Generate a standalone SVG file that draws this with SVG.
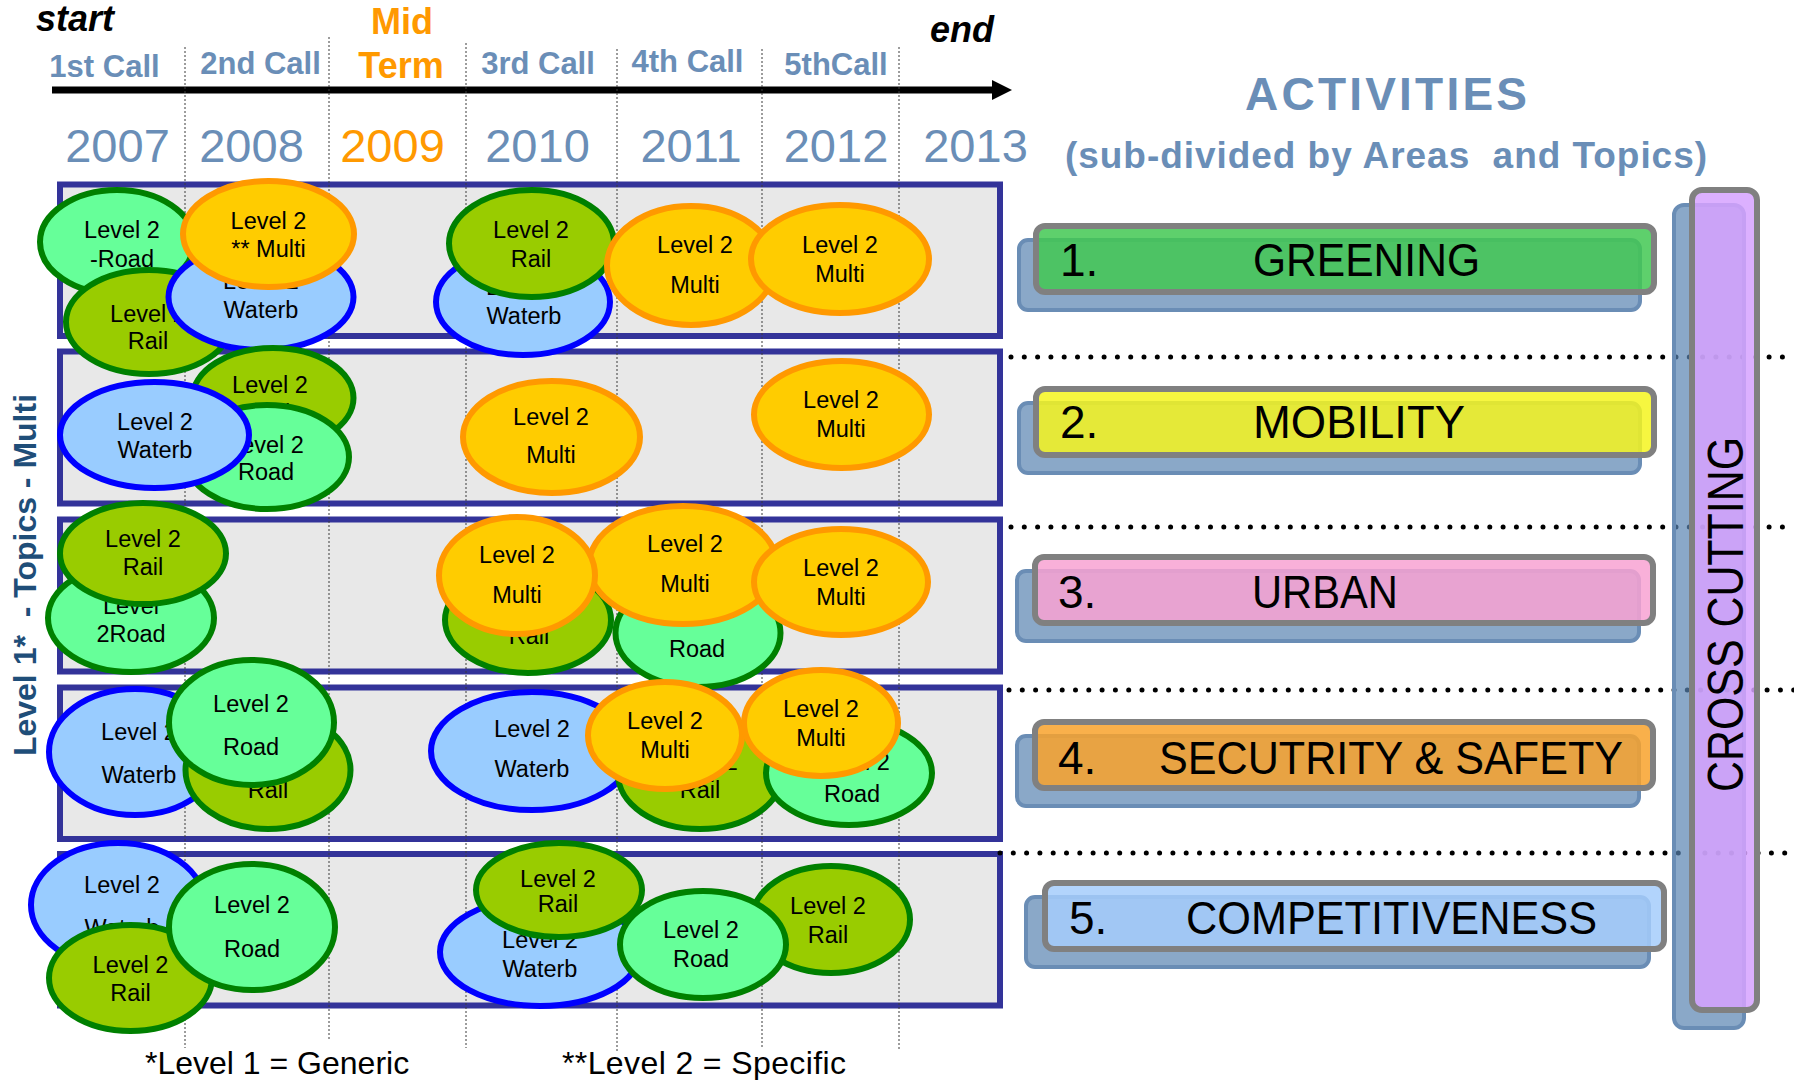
<svg xmlns="http://www.w3.org/2000/svg" width="1794" height="1080" viewBox="0 0 1794 1080">
<style>
text{font-family:"Liberation Sans",Arial,sans-serif}
.box{fill:#e8e8e8;stroke:#333399;stroke-width:6}
.grid{stroke:#3a3a3a;stroke-width:1;stroke-dasharray:2 2;fill:none}
.dots{stroke:#000;stroke-width:5;stroke-linecap:round;stroke-dasharray:0 13.3;fill:none}
.road ellipse{fill:#66ff99;stroke:#008000;stroke-width:6}
.rail ellipse{fill:#99cc00;stroke:#008000;stroke-width:6}
.water ellipse{fill:#99ccff;stroke:#0000ff;stroke-width:6}
.multi ellipse{fill:#ffcc00;stroke:#ff9900;stroke-width:6}
.lbl{font-size:23.5px;text-anchor:middle;fill:#000}
.call{font-size:31px;font-weight:bold;fill:#6a8eb7;text-anchor:middle}
.year{font-size:47px;fill:#6a8eb7;text-anchor:middle}
.or{fill:#ff9900}
.back{fill:#5983b0;fill-opacity:0.7;stroke:#6a8db5;stroke-width:4}
.front{stroke:#808080;stroke-width:6;fill-opacity:0.85}
.bt{font-size:46px;fill:#000}
</style>
<defs>
<marker id="ah" markerUnits="userSpaceOnUse" markerWidth="20" markerHeight="20" refX="2" refY="10" orient="auto"><path d="M0,0 L20,10 L0,20 z" fill="#000"/></marker>
</defs>

<g id="header">
<text x="36" y="31" font-size="36" font-weight="bold" font-style="italic" fill="#000">start</text>
<text x="930" y="42" font-size="36" font-weight="bold" font-style="italic" fill="#000">end</text>
<text x="402" y="34" font-size="36" font-weight="bold" class="or" text-anchor="middle">Mid</text>
<text x="401" y="78" font-size="36" font-weight="bold" class="or" text-anchor="middle">Term</text>
<text class="call" x="104.5" y="77">1st Call</text>
<text class="call" x="260.5" y="74">2nd Call</text>
<text class="call" x="538" y="74">3rd Call</text>
<text class="call" x="687.5" y="72">4th Call</text>
<text class="call" x="836" y="75">5thCall</text>
<text class="year" x="117.5" y="162">2007</text>
<text class="year" x="251.5" y="162">2008</text>
<text class="year or" x="392.5" y="162">2009</text>
<text class="year" x="537.5" y="162">2010</text>
<text class="year" x="691" y="162">2011</text>
<text class="year" x="836" y="162">2012</text>
<text class="year" x="975.5" y="162">2013</text>
</g>

<g id="connectors">
<line x1="52" y1="90" x2="994" y2="90" stroke="#000" stroke-width="7" marker-end="url(#ah)"/>
</g>

<g id="rows">
<rect class="box" x="60" y="184.5" width="940" height="151.5"/>
<rect class="box" x="60" y="351.5" width="940" height="152"/>
<rect class="box" x="60" y="519.5" width="940" height="152"/>
<rect class="box" x="60" y="687.5" width="940" height="151.5"/>
<rect class="box" x="60" y="854" width="940" height="151.5"/>
</g>

<g id="grid">
<line class="grid" x1="185" y1="47" x2="185" y2="1048"/>
<line class="grid" x1="329" y1="37" x2="329" y2="1040"/>
<line class="grid" x1="466" y1="43" x2="466" y2="1048"/>
<line class="grid" x1="617" y1="49" x2="617" y2="1052"/>
<line class="grid" x1="762" y1="49" x2="762" y2="1047"/>
<line class="grid" x1="899" y1="47" x2="899" y2="1050"/>
</g>

<text id="axis-label" transform="translate(36,575) rotate(-90)" text-anchor="middle" font-size="32" font-weight="bold" fill="#1f4e79" xml:space="preserve">Level 1*  - Topics - Multi</text>

<!-- Row 1 -->
<g id="r1-road" class="road"><ellipse cx="117" cy="242" rx="77" ry="52"/><text class="lbl"><tspan x="122" y="238">Level 2</tspan><tspan x="122" y="267">-Road</tspan></text></g>
<g id="r1-rail" class="rail"><ellipse cx="149" cy="322" rx="83" ry="52"/><text class="lbl"><tspan x="148" y="322">Level 2</tspan><tspan x="148" y="349">Rail</tspan></text></g>
<g id="r1-water" class="water"><ellipse cx="261" cy="297" rx="92.5" ry="53"/><text class="lbl"><tspan x="261" y="289">Level 2</tspan><tspan x="261" y="318">Waterb</tspan></text></g>
<g id="r1-multi" class="multi"><ellipse cx="268.5" cy="234" rx="85.5" ry="53"/><text class="lbl"><tspan x="268.5" y="229">Level 2</tspan><tspan x="268.5" y="257">** Multi</tspan></text></g>
<g id="r1-water2" class="water"><ellipse cx="523" cy="302" rx="87" ry="53"/><text class="lbl"><tspan x="524" y="295">Level 2</tspan><tspan x="524" y="324">Waterb</tspan></text></g>
<g id="r1-rail2" class="rail"><ellipse cx="531.5" cy="243.5" rx="82.5" ry="53.5"/><text class="lbl"><tspan x="531" y="238">Level 2</tspan><tspan x="531" y="267">Rail</tspan></text></g>
<g id="r1-multi2" class="multi"><ellipse cx="691" cy="265.5" rx="84" ry="59.5"/><text class="lbl"><tspan x="695" y="253">Level 2</tspan><tspan x="695" y="293">Multi</tspan></text></g>
<g id="r1-multi3" class="multi"><ellipse cx="840" cy="259" rx="89" ry="54"/><text class="lbl"><tspan x="840" y="253">Level 2</tspan><tspan x="840" y="282">Multi</tspan></text></g>

<!-- Row 2 -->
<g id="r2-rail" class="rail"><ellipse cx="273" cy="398" rx="80.5" ry="50"/><text class="lbl"><tspan x="270" y="393">Level 2</tspan><tspan x="270" y="421">Rail</tspan></text></g>
<g id="r2-road" class="road"><ellipse cx="267" cy="457" rx="82" ry="52"/><text class="lbl"><tspan x="266" y="453">Level 2</tspan><tspan x="266" y="480">Road</tspan></text></g>
<g id="r2-water" class="water"><ellipse cx="154.5" cy="435" rx="94.5" ry="53"/><text class="lbl"><tspan x="155" y="430">Level 2</tspan><tspan x="155" y="458">Waterb</tspan></text></g>
<g id="r2-multi" class="multi"><ellipse cx="551.5" cy="437" rx="88.5" ry="56"/><text class="lbl"><tspan x="551" y="425">Level 2</tspan><tspan x="551" y="463">Multi</tspan></text></g>
<g id="r2-multi2" class="multi"><ellipse cx="841.5" cy="414.5" rx="87.5" ry="53.5"/><text class="lbl"><tspan x="841" y="408">Level 2</tspan><tspan x="841" y="437">Multi</tspan></text></g>

<!-- Row 3 -->
<g id="r3-road" class="road"><ellipse cx="131" cy="618" rx="83" ry="54"/><text class="lbl"><tspan x="131" y="614">Level</tspan><tspan x="131" y="642">2Road</tspan></text></g>
<g id="r3-rail" class="rail"><ellipse cx="143" cy="553.5" rx="83" ry="50.5"/><text class="lbl"><tspan x="143" y="547">Level 2</tspan><tspan x="143" y="575">Rail</tspan></text></g>
<g id="r3-rail2" class="rail"><ellipse cx="528" cy="620" rx="83" ry="53"/><text class="lbl"><tspan x="529" y="616">Level 2</tspan><tspan x="529" y="644">Rail</tspan></text></g>
<g id="r3-road2" class="road"><ellipse cx="698" cy="633" rx="82.5" ry="54"/><text class="lbl"><tspan x="697" y="618">Level 2</tspan><tspan x="697" y="657">Road</tspan></text></g>
<g id="r3-multi2" class="multi"><ellipse cx="683" cy="565" rx="94" ry="59"/><text class="lbl"><tspan x="685" y="552">Level 2</tspan><tspan x="685" y="592">Multi</tspan></text></g>
<g id="r3-multi" class="multi"><ellipse cx="517" cy="575.5" rx="78" ry="58.5"/><text class="lbl"><tspan x="517" y="563">Level 2</tspan><tspan x="517" y="603">Multi</tspan></text></g>
<g id="r3-multi3" class="multi"><ellipse cx="841" cy="582" rx="87" ry="53"/><text class="lbl"><tspan x="841" y="576">Level 2</tspan><tspan x="841" y="605">Multi</tspan></text></g>

<!-- Row 4 -->
<g id="r4-water" class="water"><ellipse cx="135" cy="752" rx="86" ry="63"/><text class="lbl"><tspan x="139" y="740">Level 2</tspan><tspan x="139" y="783">Waterb</tspan></text></g>
<g id="r4-rail" class="rail"><ellipse cx="268" cy="770" rx="82.5" ry="59"/><text class="lbl"><tspan x="268" y="755">Level 2</tspan><tspan x="268" y="798">Rail</tspan></text></g>
<g id="r4-road" class="road"><ellipse cx="251.5" cy="722.5" rx="82.5" ry="62.5"/><text class="lbl"><tspan x="251" y="712">Level 2</tspan><tspan x="251" y="755">Road</tspan></text></g>
<g id="r4-water2" class="water"><ellipse cx="532" cy="751" rx="101" ry="59"/><text class="lbl"><tspan x="532" y="737">Level 2</tspan><tspan x="532" y="777">Waterb</tspan></text></g>
<g id="r4-rail2" class="rail"><ellipse cx="700" cy="774" rx="82" ry="55"/><text class="lbl"><tspan x="700" y="770">Level 2</tspan><tspan x="700" y="798">Rail</tspan></text></g>
<g id="r4-road2" class="road"><ellipse cx="849" cy="773" rx="83" ry="52"/><text class="lbl"><tspan x="852" y="770">Level 2</tspan><tspan x="852" y="802">Road</tspan></text></g>
<g id="r4-multi" class="multi"><ellipse cx="665" cy="735.5" rx="77" ry="53.5"/><text class="lbl"><tspan x="665" y="729">Level 2</tspan><tspan x="665" y="758">Multi</tspan></text></g>
<g id="r4-multi2" class="multi"><ellipse cx="821" cy="723" rx="77" ry="53"/><text class="lbl"><tspan x="821" y="717">Level 2</tspan><tspan x="821" y="746">Multi</tspan></text></g>

<!-- Row 5 -->
<g id="r5-water" class="water"><ellipse cx="118" cy="905" rx="87" ry="62"/><text class="lbl"><tspan x="122" y="893">Level 2</tspan><tspan x="122" y="936">Waterb</tspan></text></g>
<g id="r5-rail" class="rail"><ellipse cx="130.5" cy="978" rx="81.5" ry="53"/><text class="lbl"><tspan x="130.5" y="973">Level 2</tspan><tspan x="130.5" y="1001">Rail</tspan></text></g>
<g id="r5-road" class="road"><ellipse cx="252" cy="927" rx="83" ry="63"/><text class="lbl"><tspan x="252" y="913">Level 2</tspan><tspan x="252" y="957">Road</tspan></text></g>
<g id="r5-water2" class="water"><ellipse cx="540" cy="952" rx="100" ry="54"/><text class="lbl"><tspan x="540" y="948">Level 2</tspan><tspan x="540" y="977">Waterb</tspan></text></g>
<g id="r5-rail2" class="rail"><ellipse cx="559" cy="890" rx="83" ry="47"/><text class="lbl"><tspan x="558" y="887">Level 2</tspan><tspan x="558" y="912">Rail</tspan></text></g>
<g id="r5-rail3" class="rail"><ellipse cx="831" cy="919.5" rx="79" ry="53.5"/><text class="lbl"><tspan x="828" y="914">Level 2</tspan><tspan x="828" y="943">Rail</tspan></text></g>
<g id="r5-road2" class="road"><ellipse cx="703" cy="944.5" rx="83" ry="53.5"/><text class="lbl"><tspan x="701" y="938">Level 2</tspan><tspan x="701" y="967">Road</tspan></text></g>

<g id="footer">
<text x="145" y="1074" font-size="32" fill="#000">*Level 1 = Generic</text>
<text x="562" y="1074" font-size="32" fill="#000" textLength="284">**Level 2 = Specific</text>
</g>

<g id="activities-title">
<text x="1386" y="110" font-size="46" font-weight="bold" fill="#6a8eb7" text-anchor="middle" textLength="282">ACTIVITIES</text>
<text x="1386" y="168" font-size="37" font-weight="bold" fill="#6a8eb7" text-anchor="middle" textLength="642" xml:space="preserve">(sub-divided by Areas  and Topics)</text>
</g>

<g id="separators">
<line class="dots" x1="1011" y1="357" x2="1794" y2="357"/>
<line class="dots" x1="1011" y1="527" x2="1794" y2="527"/>
<line class="dots" x1="1009" y1="690" x2="1794" y2="690"/>
<line class="dots" x1="1000" y1="853" x2="1794" y2="853"/>
</g>

<g id="greening">
<rect class="back" x="1019" y="240" width="621" height="70" rx="9"/>
<rect class="front" x="1036" y="226" width="618" height="66" rx="9" fill="#42c852"/>
<text class="bt" x="1060" y="276">1.</text><text class="bt" x="1253" y="276" textLength="227" lengthAdjust="spacingAndGlyphs">GREENING</text>
</g>
<g id="mobility">
<rect class="back" x="1019" y="403" width="621" height="70" rx="9"/>
<rect class="front" x="1036" y="389" width="618" height="66" rx="9" fill="#f4f41e"/>
<text class="bt" x="1060" y="438">2.</text><text class="bt" x="1253" y="438" textLength="212" lengthAdjust="spacingAndGlyphs">MOBILITY</text>
</g>
<g id="urban">
<rect class="back" x="1017" y="571" width="622" height="70" rx="9"/>
<rect class="front" x="1035" y="557" width="618" height="66" rx="9" fill="#f8a2d2"/>
<text class="bt" x="1058" y="608">3.</text><text class="bt" x="1252" y="608" textLength="146" lengthAdjust="spacingAndGlyphs">URBAN</text>
</g>
<g id="security">
<rect class="back" x="1017" y="736" width="622" height="70" rx="9"/>
<rect class="front" x="1035" y="722" width="618" height="66" rx="9" fill="#f8a22c"/>
<text class="bt" x="1058" y="774">4.</text><text class="bt" x="1159" y="774" textLength="464" lengthAdjust="spacingAndGlyphs">SECUTRITY &amp; SAFETY</text>
</g>
<g id="competitiveness">
<rect class="back" x="1026" y="897" width="623" height="70" rx="9"/>
<rect class="front" x="1045" y="883" width="619" height="66" rx="9" fill="#a4ccfc"/>
<text class="bt" x="1069" y="934">5.</text><text class="bt" x="1186" y="934" textLength="411" lengthAdjust="spacingAndGlyphs">COMPETITIVENESS</text>
</g>
<g id="cross-cutting">
<rect class="back" x="1674" y="205" width="70" height="823" rx="10"/>
<rect class="front" x="1692" y="190" width="65" height="820" rx="10" fill="#d6a2ff"/>
<text font-size="50" fill="#000" transform="translate(1743,614.5) rotate(-90)" text-anchor="middle" textLength="355" lengthAdjust="spacingAndGlyphs">CROSS CUTTING</text>
</g>
</svg>
